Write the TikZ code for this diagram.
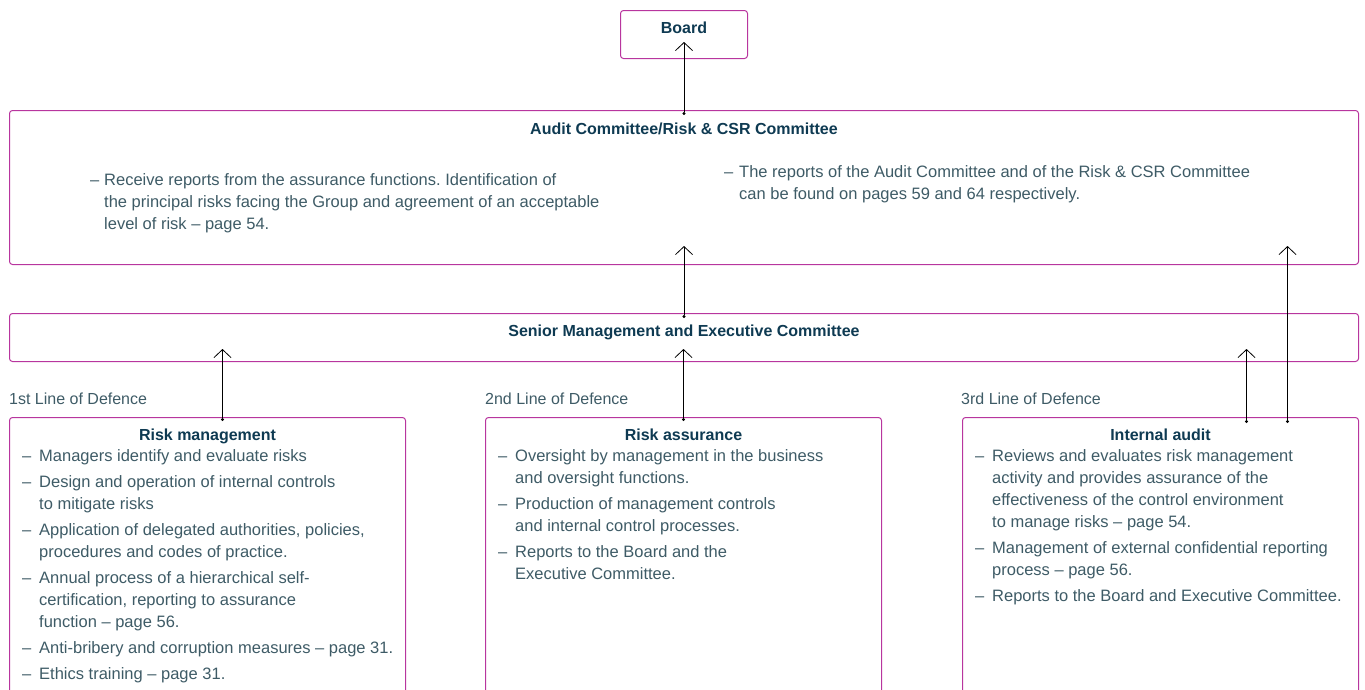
\documentclass[tikz,border=0pt]{standalone}
\usepackage{fontspec}
\setmainfont{Liberation Sans}
\usetikzlibrary{arrows.meta,calc}
\frenchspacing

\definecolor{boxline}{HTML}{B8359E}
\definecolor{headtext}{HTML}{0E3A52}
\definecolor{bodytext}{HTML}{3E5B66}

\newcommand{\itm}{\makebox[17pt][l]{--}}
\newcommand{\cnt}{\hspace*{17pt}}

\tikzset{
  panel/.style={draw=boxline, line width=1pt, rounded corners=3pt, anchor=north west, inner sep=0pt},
  heading/.style={font=\bfseries\fontsize{16}{19}\selectfont, text=headtext, inner sep=0pt},
  bodytxt/.style={font=\fontsize{16.5}{22}\selectfont, text=bodytext, align=left, anchor=north west, inner sep=0pt},
  linelabel/.style={font=\fontsize{16}{19}\selectfont, text=bodytext, anchor=west, inner sep=0pt},
  uparrow/.style={{Circle[length=3pt]}-{Straight Barb[length=8pt,width=17pt]}, line width=0.8pt},
}

\begin{document}
\begin{tikzpicture}[x=1pt,y=-1pt]
\useasboundingbox (0,0) rectangle (1365,689);
\clip (0,0) rectangle (1365,689);

% boxes
\node[panel, minimum width=127pt, minimum height=48pt] (board) at (620,10) {};
\node[panel, minimum width=1349pt, minimum height=154pt] (audit) at (9,110) {};
\node[panel, minimum width=1349pt, minimum height=48pt] (senior) at (9,313) {};
\node[panel, minimum width=396pt, minimum height=300pt] (riskm) at (9,417) {};
\node[panel, minimum width=396pt, minimum height=300pt] (rass) at (485,417) {};
\node[panel, minimum width=396pt, minimum height=300pt] (iaud) at (962,417) {};

% headings
\node[heading] (boardT) at ($(board.north)+(0,18)$) {Board};
\node[heading] (auditT) at ($(audit.north)+(0,19)$) {Audit Committee/Risk \& CSR Committee};
\node[heading] (seniorT) at ($(senior.north)+(0,19)$) {Senior Management and Executive Committee};
\node[heading] (riskmT) at ($(riskm.north)+(0,19)$) {Risk management};
\node[heading] (rassT) at ($(rass.north)+(0,18)$) {Risk assurance};
\node[heading] (iaudT) at ($(iaud.north)+(0,18)$) {Internal audit};

% lines of defence
\node[linelabel] (first) at (9,399) {1st Line of Defence};
\node[linelabel] (second) at (485,399) {2nd Line of Defence};
\node[linelabel] (third) at (961,399) {3rd Line of Defence};

% texts
\node[bodytxt] (auditL) at (90,173) {\makebox[14pt][l]{--}Receive reports from the assurance functions. Identification of\\
\hspace*{14pt}the principal risks facing the Group and agreement of an acceptable\\
\hspace*{14pt}level of risk -- page 54.};
\node[bodytxt] (auditR) at (724,165) {\makebox[15pt][l]{--}The reports of the Audit Committee and of the Risk \& CSR Committee\\
\hspace*{15pt}can be found on pages 59 and 64 respectively.};

\node[bodytxt] (riskmL) at (22,449) {\itm Managers identify and evaluate risks\\[4pt]
\itm Design and operation of internal controls\\
\cnt to mitigate risks\\[4pt]
\itm Application of delegated authorities, policies,\\
\cnt procedures and codes of practice.\\[4pt]
\itm Annual process of a hierarchical self-\\
\cnt certification, reporting to assurance\\
\cnt function -- page 56.\\[4pt]
\itm Anti-bribery and corruption measures -- page 31.\\[4pt]
\itm Ethics training -- page 31.};

\node[bodytxt] (rassL) at (498,449) {\itm Oversight by management in the business\\
\cnt and oversight functions.\\[4pt]
\itm Production of management controls\\
\cnt and internal control processes.\\[4pt]
\itm Reports to the Board and the\\
\cnt Executive Committee.};

\node[bodytxt] (iaudL) at (975,449) {\itm Reviews and evaluates risk management\\
\cnt activity and provides assurance of the\\
\cnt effectiveness of the control environment\\
\cnt to manage risks -- page 54.\\[4pt]
\itm Management of external confidential reporting\\
\cnt process -- page 56.\\[4pt]
\itm Reports to the Board and Executive Committee.};

% arrows
\draw[uparrow] ($(audit.north)+(0,5)$) -- ($(board.south)+(0,-17)$);
\draw[uparrow] ($(senior.north)+(0,5)$) -- ($(audit.south)+(0,-19)$);
\draw[uparrow] ($(riskm.north)+(15,4)$) -- ($(riskm.north |- senior.south)+(15,-13)$);
\draw[uparrow] ($(rass.north)+(0,4)$) -- ($(rass.north |- senior.south)+(0,-13)$);
\draw[uparrow] ($(iaud.north)+(86,6)$) -- ($(iaud.north |- senior.south)+(86,-13)$);
\draw[uparrow] ($(iaud.north)+(127,6)$) -- ($(iaud.north |- audit.south)+(127,-19)$);
\end{tikzpicture}
\end{document}
